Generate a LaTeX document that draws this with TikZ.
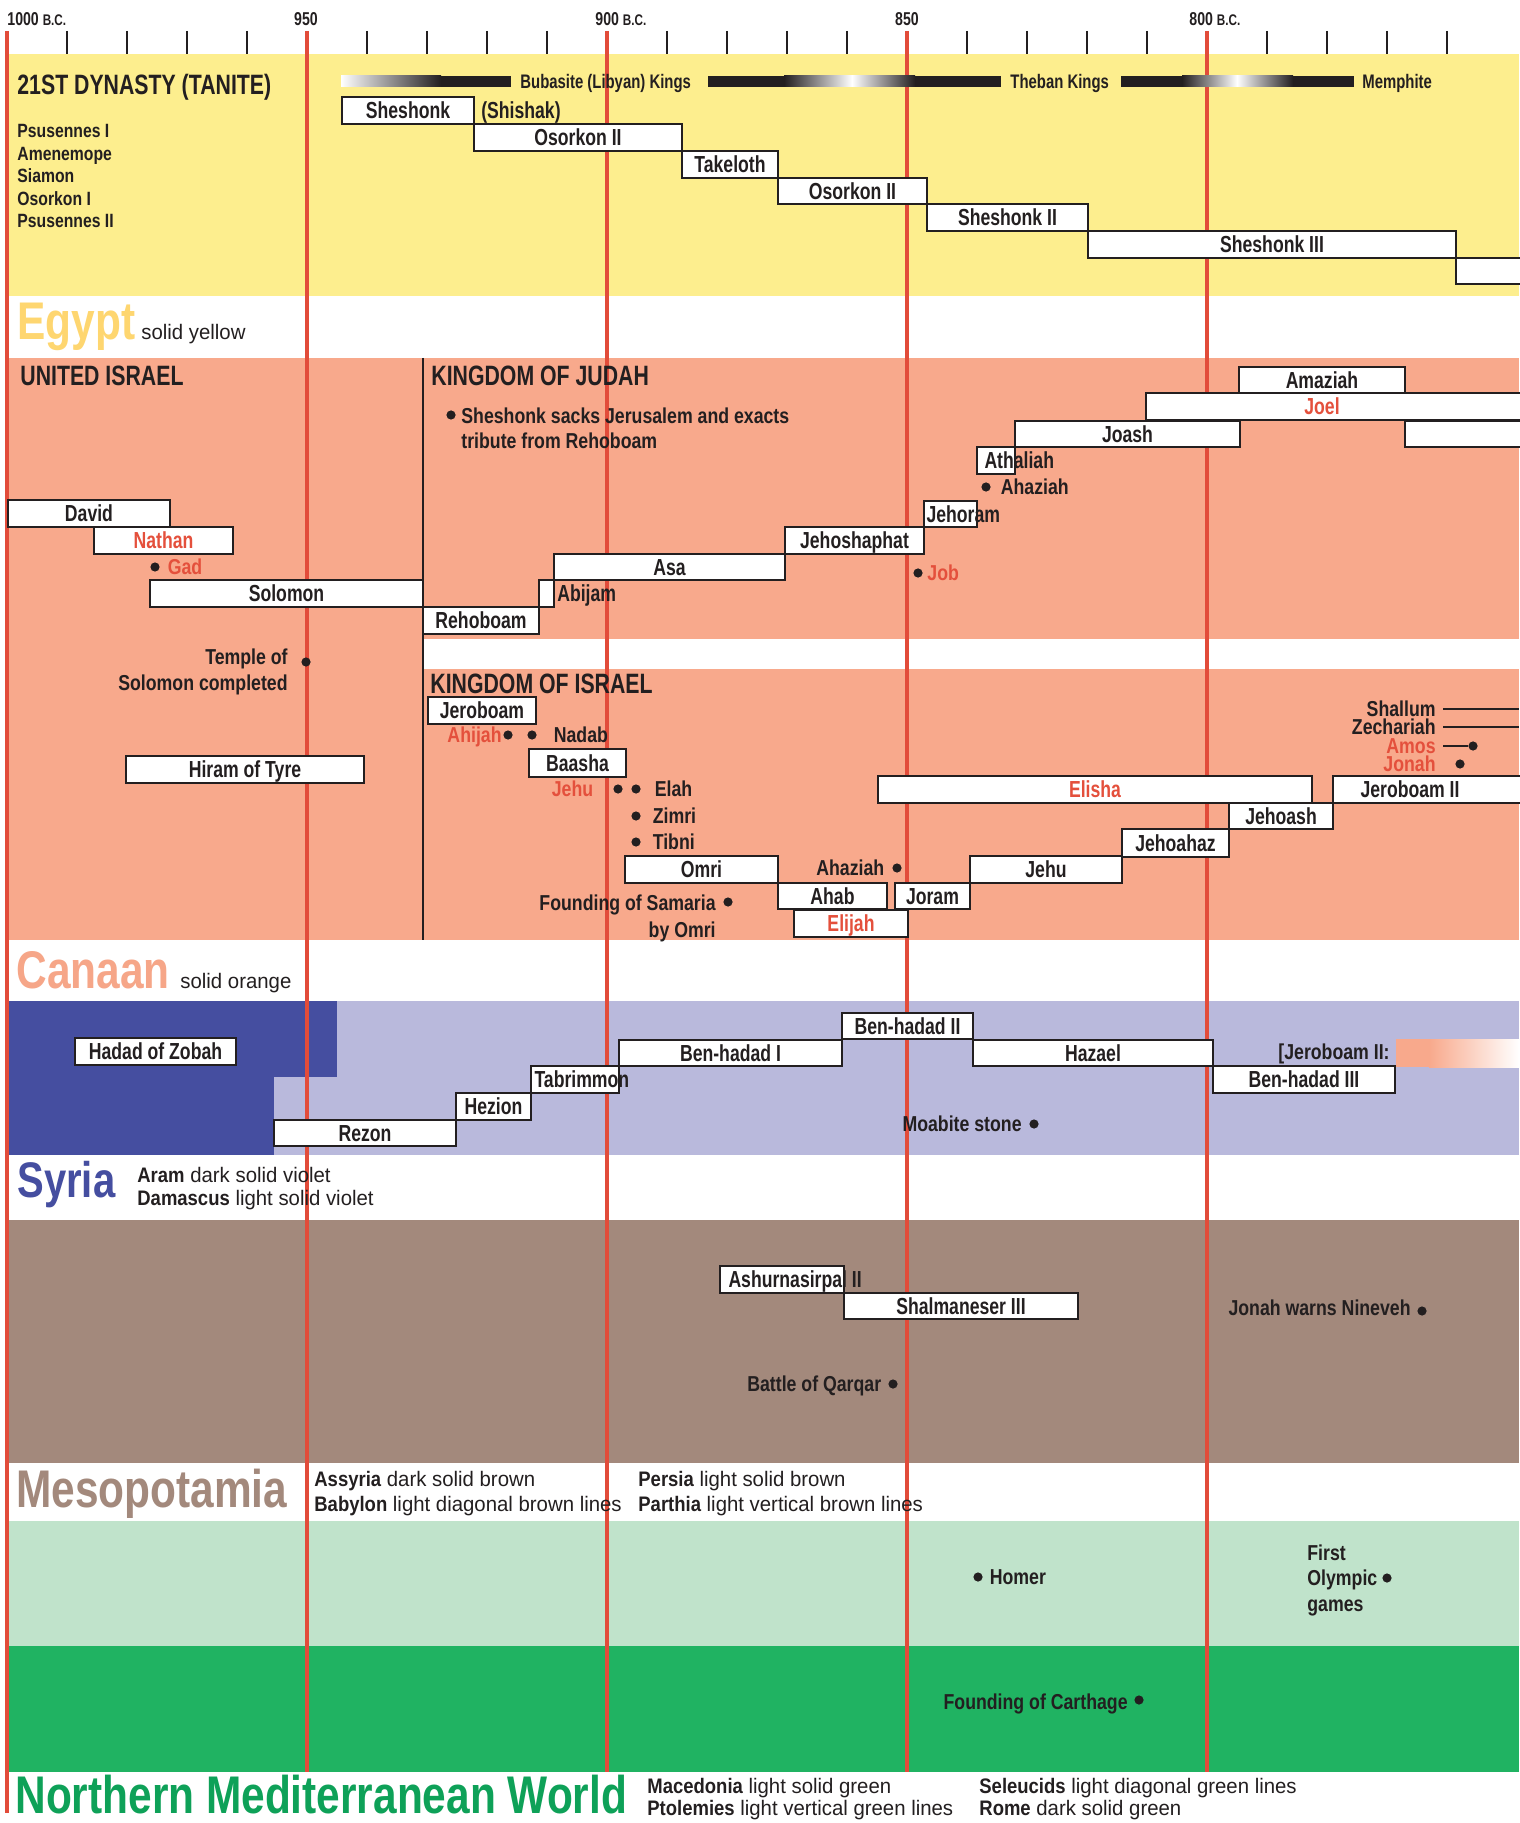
\documentclass[tikz,border=0pt]{standalone}
\usepackage{fontspec}
\setmainfont{Liberation Sans}[FakeStretch=0.76]
\newfontfamily\chartland{Liberation Sans}[FakeStretch=0.8]
\newfontfamily\chartevent{Liberation Sans}[FakeStretch=0.82]
\newfontfamily\chartkey{Liberation Sans}[FakeStretch=0.88]
\newfontfamily\chartlight{Liberation Sans}[FakeStretch=0.97]
\usetikzlibrary{positioning}

\definecolor{ink}{RGB}{35,31,32}
\definecolor{datered}{RGB}{226,76,58}
\definecolor{prophetred}{RGB}{228,80,60}
\definecolor{egyptyellow}{RGB}{253,238,142}
\definecolor{egyptlabel}{RGB}{254,214,112}
\definecolor{canaansalmon}{RGB}{248,169,140}
\definecolor{canaanlabel}{RGB}{246,166,136}
\definecolor{aramviolet}{RGB}{69,78,160}
\definecolor{damascusviolet}{RGB}{185,185,220}
\definecolor{assyriabrown}{RGB}{163,137,124}
\definecolor{macedoniagreen}{RGB}{192,227,203}
\definecolor{romegreen}{RGB}{32,179,98}
\definecolor{romelabel}{RGB}{14,161,88}

\begin{document}
\begin{tikzpicture}[x=0.5pt,y=-0.5pt]

        \tikzset{period/.style n args={4}{at={({(#1+#2)/2},{(#3+#4)/2})},minimum width={(#2-#1)*0.5pt},minimum height={(#4-#3)*0.5pt}}}
        \tikzstyle{reign}=[draw=ink,line width=0.9pt,fill=white,inner sep=0pt,text=ink,font=\bfseries\fontsize{11.6}{13}\selectfont,text height=8.3pt,text depth=0pt]
        \tikzstyle{reignlabel}=[inner sep=0pt,text=ink,font=\bfseries\fontsize{11.6}{13}\selectfont,text height=8.3pt,text depth=0pt]
        \tikzstyle{event}=[inner sep=0pt,text=ink,font=\chartevent\bfseries\fontsize{10.8}{13}\selectfont,text height=7.7pt,text depth=0pt]
        \tikzstyle{events}=[inner sep=0pt,text=ink,font=\chartevent\bfseries\fontsize{10.8}{13}\selectfont]
        \tikzstyle{evdot}=[circle,fill=ink,inner sep=0pt,minimum size=4.6pt]
        \tikzstyle{prophet}=[text=prophetred]
        \tikzstyle{header}=[inner sep=0pt,anchor=base west,text=ink,font=\bfseries\fontsize{14}{16}\selectfont]
        \tikzstyle{dynasty}=[inner sep=0pt,anchor=west,text=ink,font=\bfseries\fontsize{9.8}{11}\selectfont,text height=7pt,text depth=0pt]
        \tikzstyle{yearlabel}=[inner sep=0pt,anchor=base west,text=ink,font=\bfseries\fontsize{9.3}{10}\selectfont]
        \tikzstyle{landname}=[inner sep=0pt,anchor=base west,font=\chartland\bfseries\fontsize{26.5}{28}\selectfont]
        \tikzstyle{legendtext}=[inner sep=0pt,text=ink,align=left,font=\chartlight\fontsize{10.5}{12}\selectfont]
        \tikzstyle{dateline}=[draw=datered,line width=1.75pt]
        \tikzstyle{tickmark}=[draw=ink,line width=1pt]

        \useasboundingbox (0,0) rectangle (1519,1823);
        \fill[white] (0,0) rectangle (1519,1823);

        \fill[egyptyellow] (7,54) rectangle (1519,296);
        \fill[canaansalmon] (7,358) rectangle (423,940);
        \fill[canaansalmon] (423,358) rectangle (1519,639);
        \fill[canaansalmon] (423,669) rectangle (1519,940);
        \fill[damascusviolet] (7,1001) rectangle (1519,1155);
        \fill[aramviolet] (7,1001) rectangle (337,1077);
        \fill[aramviolet] (7,1077) rectangle (274,1155);
        \fill[assyriabrown] (7,1220) rectangle (1519,1463);
        \fill[macedoniagreen] (7,1521) rectangle (1519,1646);
        \fill[romegreen] (7,1646) rectangle (1519,1772);

        \foreach \d in {0,50,...,200}{
          \draw[dateline] ({7+6*\d},31) -- ({7+6*\d},1772);
          \foreach \t in {10,20,30,40}
            \draw[tickmark] ({7+6*(\d+\t)},31) -- ({7+6*(\d+\t)},54);
        }
        \draw[dateline] (7,1772) -- (7,1813);
        \draw[ink,line width=0.7pt] (423,358) -- (423,940);

        \node[yearlabel] (y1000) at (7,26) {1000 {\fontsize{7.7}{8}\selectfont B.C.}};
        \node[yearlabel,anchor=base] (y950) at (306,26) {950};
        \node[yearlabel] (y900) at (595,26) {900 {\fontsize{7.7}{8}\selectfont B.C.}};
        \node[yearlabel,anchor=base] (y850) at (907,26) {850};
        \node[yearlabel] (y800) at (1189,26) {800 {\fontsize{7.7}{8}\selectfont B.C.}};

        \shade[left color=white,right color=ink] (341,76) rectangle (441,87);
        \fill[ink] (441,76) rectangle (511,87);
        \fill[ink] (708,76) rectangle (784,87);
        \shade[left color=ink,right color=white] (784,76) rectangle (852,87);
        \shade[left color=white,right color=ink] (852,76) rectangle (915,87);
        \fill[ink] (915,76) rectangle (1001,87);
        \fill[ink] (1121,76) rectangle (1182,87);
        \shade[left color=ink,right color=white] (1182,76) rectangle (1237,87);
        \shade[left color=white,right color=ink] (1237,76) rectangle (1293,87);
        \fill[ink] (1293,76) rectangle (1354,87);
        \node[dynasty] (bubasite) at (520,81.5) {Bubasite (Libyan) Kings};
        \node[dynasty] (theban) at (1010,81.5) {Theban Kings};
        \node[dynasty] (memphite) at (1362,81.5) {Memphite};

        \node[header] (tanite) at (17,95) {21ST DYNASTY (TANITE)};
        \node[events,anchor=north west,align=left,font=\chartevent\bfseries\fontsize{9.6}{11.25}\selectfont] (tanitekings) at (17,124) {Psusennes I\\Amenemope\\Siamon\\Osorkon I\\Psusennes II};
        \node[reign,period={342}{474}{97}{124}] (sheshonk) {Sheshonk};
        \node[reignlabel,right=3pt of sheshonk] (shishak) {(Shishak)};
        \node[reign,period={474}{682}{124}{151}] (osorkonA) {Osorkon II};
        \node[reign,period={682}{778}{151}{178}] (takeloth) {Takeloth};
        \node[reign,period={778}{927}{178}{204}] (osorkonB) {Osorkon II};
        \node[reign,period={927}{1088}{204}{231}] (sheshonkB) {Sheshonk II};
        \node[reign,period={1088}{1456}{231}{258}] (sheshonkC) {Sheshonk III};
        \node[reign,period={1456}{1530}{258}{284}] (egyptnext) {};

        \node[landname,text=egyptlabel] (egypt) at (17,340) {Egypt};
        \node[legendtext,anchor=base west] (egyptkey) at (141,340) {solid yellow};

        \node[header] (unitedisrael) at (20,386) {UNITED ISRAEL};
        \node[header] (judah) at (431,386) {KINGDOM OF JUDAH};
        \node[evdot] (sacksdot) at (451,415) {};
        \node[events,anchor=north west,align=left,font=\chartevent\bfseries\fontsize{10.8}{12.5}\selectfont] (sacks) at (461,407.5) {Sheshonk sacks Jerusalem and exacts\\tribute from Rehoboam};
        \node[reign,period={8}{170}{500}{527}] (david) {David};
        \node[reign,prophet,period={94}{233}{527}{554}] (nathan) {Nathan};
        \node[evdot] (gaddot) at (155,567) {};
        \node[event,prophet,right=3.7pt of gaddot] (gad) {Gad};
        \node[reign,period={150}{423}{580}{607}] (solomon) {Solomon};
        \node[reign,period={423}{539}{607}{634}] (rehoboam) {Rehoboam};
        \node[reign,period={539}{554}{580}{607}] (abijambox) {};
        \node[reignlabel,right=1pt of abijambox] (abijam) {Abijam};
        \node[reign,period={554}{785}{554}{580}] (asa) {Asa};
        \node[reign,period={785}{924}{527}{554}] (jehoshaphat) {Jehoshaphat};
        \node[reign,period={924}{977}{501}{527}] (jehorambox) {};
        \node[reignlabel,right=1.5pt of jehorambox.west] (jehoram) {Jehoram};
        \node[evdot] (ahaziahdot) at (986,487) {};
        \node[event,right=4.7pt of ahaziahdot] (ahaziah) {Ahaziah};
        \node[reign,period={977}{1015}{447}{474}] (athaliahbox) {};
        \node[reignlabel,right=4pt of athaliahbox.west] (athaliah) {Athaliah};
        \node[reign,period={1015}{1240}{421}{447}] (joash) {Joash};
        \node[reign,period={1146}{1530}{393}{420}] (joelbox) {};
        \node[reignlabel,prophet] (joel) at (1322,406.5) {Joel};
        \node[reign,period={1239}{1405}{367}{393}] (amaziah) {Amaziah};
        \node[reign,period={1405}{1530}{421}{447}] (judahnext) {};
        \node[evdot] (jobdot) at (918,573) {};
        \node[event,prophet,right=2pt of jobdot] (job) {Job};

        \node[events,anchor=north east,align=right] (temple) at (288,648.5) {Temple of\\Solomon completed};
        \node[evdot] (templedot) at (306,662) {};
        \node[reign,period={126}{364}{756}{783}] (hiram) {Hiram of Tyre};

        \node[header] (israel) at (430,693) {KINGDOM OF ISRAEL};
        \node[reign,period={428}{536}{697}{724}] (jeroboam) {Jeroboam};
        \node[evdot] (ahijahdot) at (508,735) {};
        \node[event,prophet,left=0.5pt of ahijahdot] (ahijah) {Ahijah};
        \node[evdot] (nadabdot) at (532,735) {};
        \node[event,right=8.2pt of nadabdot] (nadab) {Nadab};
        \node[reign,period={529}{626}{749}{777}] (baasha) {Baasha};
        \node[evdot] (jehudot) at (618,789) {};
        \node[event,prophet,left=9.7pt of jehudot] (jehuprophet) {Jehu};
        \node[evdot] (elahdot) at (636,789) {};
        \node[event,right=6.7pt of elahdot] (elah) {Elah};
        \node[evdot] (zimridot) at (636,816) {};
        \node[event,right=5.7pt of zimridot] (zimri) {Zimri};
        \node[evdot] (tibnidot) at (636,842) {};
        \node[event,right=5.7pt of tibnidot] (tibni) {Tibni};
        \node[reign,period={625}{778}{856}{883}] (omri) {Omri};
        \node[events,anchor=north east,align=right,font=\chartevent\bfseries\fontsize{10.8}{13.5}\selectfont] (samaria) at (716,894.5) {Founding of Samaria\\by Omri};
        \node[evdot] (samariadot) at (728,902) {};
        \node[evdot] (ahaziahBdot) at (897,868) {};
        \node[event,left=3.7pt of ahaziahBdot] (ahaziahB) {Ahaziah};
        \node[reign,period={778}{887}{883}{909}] (ahab) {Ahab};
        \node[reign,period={895}{970}{883}{909}] (joram) {Joram};
        \node[reign,prophet,period={794}{908}{910}{937}] (elijah) {Elijah};
        \node[reign,period={970}{1122}{856}{883}] (jehu) {Jehu};
        \node[reign,period={1122}{1229}{829}{857}] (jehoahaz) {Jehoahaz};
        \node[reign,period={1229}{1333}{803}{829}] (jehoash) {Jehoash};
        \node[reign,prophet,period={878}{1312}{776}{803}] (elisha) {Elisha};
        \node[reign,period={1333}{1530}{776}{803}] (jeroboamIIbox) {};
        \node[reignlabel] (jeroboamII) at (1410,789.5) {Jeroboam II};
        \node[event,anchor=east] (shallum) at (1436,709) {Shallum};
        \node[event,anchor=east] (zechariah) at (1436,727) {Zechariah};
        \node[event,prophet,anchor=east] (amos) at (1436,746) {Amos};
        \node[event,prophet,anchor=east] (jonah) at (1436,764) {Jonah};
        \node[evdot] (amosdot) at (1473,746) {};
        \node[evdot] (jonahdot) at (1460,764) {};
        \coordinate (shallumend) at (1519,709);
        \coordinate (zechariahend) at (1519,727);
        \draw[ink,line width=0.6pt] ([xshift=3.5pt]shallum.east) -- (shallumend);
        \draw[ink,line width=0.6pt] ([xshift=3.5pt]zechariah.east) -- (zechariahend);
        \draw[ink,line width=0.6pt] ([xshift=3.5pt]amos.east) -- (amosdot);

        \node[landname,text=canaanlabel] (canaan) at (16,988) {Canaan};
        \node[legendtext,anchor=base west] (canaankey) at (180,988) {solid orange};

        \node[reign,period={75}{236}{1038}{1065}] (hadad) {Hadad of Zobah};
        \node[reign,period={274}{456}{1120}{1146}] (rezon) {Rezon};
        \node[reign,period={456}{531}{1093}{1120}] (hezion) {Hezion};
        \node[reign,period={531}{619}{1066}{1093}] (tabrimmonbox) {};
        \node[reignlabel,right=2pt of tabrimmonbox.west] (tabrimmon) {Tabrimmon};
        \node[reign,period={619}{842}{1040}{1066}] (benhadadA) {Ben-hadad I};
        \node[reign,period={842}{973}{1013}{1039}] (benhadadB) {Ben-hadad II};
        \node[reign,period={973}{1213}{1040}{1066}] (hazael) {Hazael};
        \node[reign,period={1213}{1395}{1066}{1093}] (benhadadC) {Ben-hadad III};
        \fill[canaansalmon] (1396,1039) rectangle (1429,1067);
        \shade[left color=canaansalmon,right color=white] (1429,1039) rectangle (1519,1067);
        \node[event,anchor=east] (jeroboamnote) at (1390,1052) {[Jeroboam II:};
        \node[evdot] (moabitedot) at (1034,1124) {};
        \node[event,left=3.5pt of moabitedot] (moabite) {Moabite stone};

        \node[landname,text=aramviolet,font=\chartland\bfseries\fontsize{25}{27}\selectfont] (syria) at (17,1197) {Syria};
        \node[legendtext,anchor=north west,font=\chartlight\fontsize{10.5}{11.7}\selectfont] (syriakey) at (137,1166.5) {{\chartkey\bfseries Aram} dark solid violet\\{\chartkey\bfseries Damascus} light solid violet};

        \node[reign,period={720}{844}{1266}{1293}] (ashurbox) {};
        \node[reignlabel,right=4.5pt of ashurbox.west] (ashurnasirpal) {Ashurnasirpal II};
        \node[reign,period={844}{1078}{1293}{1319}] (shalmaneser) {Shalmaneser III};
        \node[evdot] (ninevehdot) at (1422,1311) {};
        \node[event,anchor=east] (nineveh) at (1411,1308) {Jonah warns Nineveh};
        \node[evdot] (qarqardot) at (893,1384) {};
        \node[event,left=3.2pt of qarqardot] (qarqar) {Battle of Qarqar};

        \node[landname,text=assyriabrown] (mesopotamia) at (16,1507) {Mesopotamia};
        \node[legendtext,anchor=north west,font=\chartlight\fontsize{10.5}{12.2}\selectfont] (mesokeyA) at (314,1471) {{\chartkey\bfseries Assyria} dark solid brown\\{\chartkey\bfseries Babylon} light diagonal brown lines};
        \node[legendtext,anchor=north west,font=\chartlight\fontsize{10.5}{12.2}\selectfont] (mesokeyB) at (638,1471) {{\chartkey\bfseries Persia} light solid brown\\{\chartkey\bfseries Parthia} light vertical brown lines};

        \node[evdot] (homerdot) at (978,1577) {};
        \node[event,right=3.2pt of homerdot] (homer) {Homer};
        \node[events,anchor=north west,align=left,font=\chartevent\bfseries\fontsize{10.8}{12.75}\selectfont] (olympic) at (1307,1544) {First\\Olympic\\games};
        \node[evdot] (olympicdot) at (1387,1578) {};
        \node[evdot] (carthagedot) at (1139,1700) {};
        \node[event,anchor=east] (carthage) at (1128,1702) {Founding of Carthage};

        \node[landname,text=romelabel] (northern) at (15,1813) {Northern Mediterranean World};
        \node[legendtext,anchor=north west,font=\chartlight\fontsize{10.5}{10.85}\selectfont] (northkeyA) at (647,1778) {{\chartkey\bfseries Macedonia} light solid green\\{\chartkey\bfseries Ptolemies} light vertical green lines};
        \node[legendtext,anchor=north west,font=\chartlight\fontsize{10.5}{10.85}\selectfont] (northkeyB) at (979,1778) {{\chartkey\bfseries Seleucids} light diagonal green lines\\{\chartkey\bfseries Rome} dark solid green};
      \end{tikzpicture}
\end{document}
